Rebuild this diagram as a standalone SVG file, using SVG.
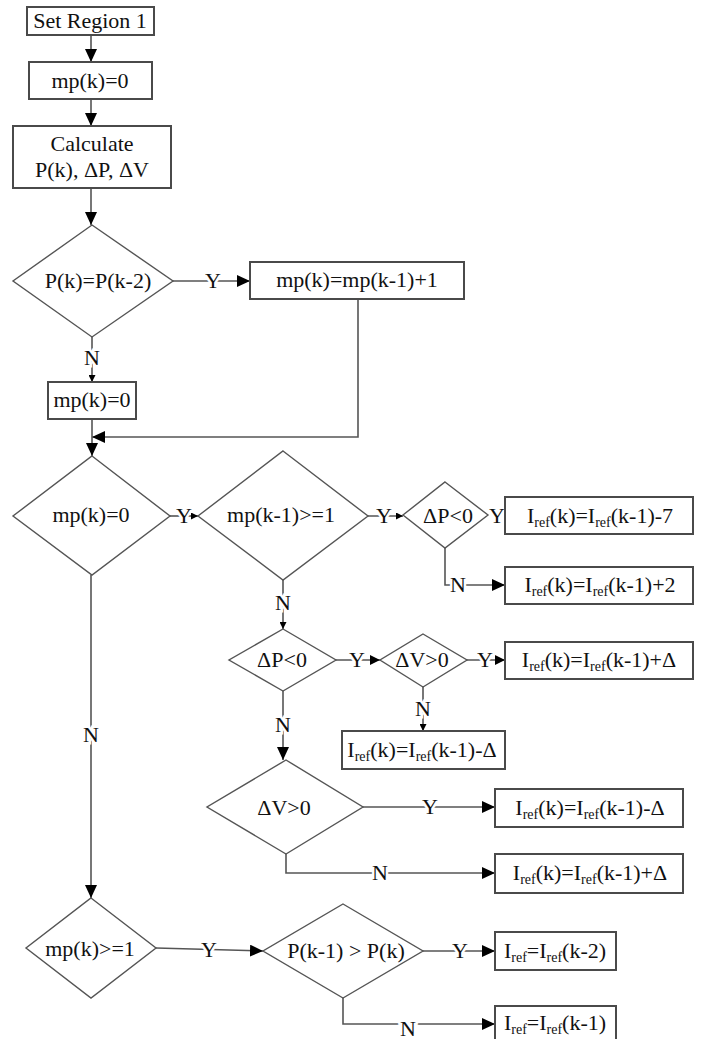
<svg xmlns="http://www.w3.org/2000/svg" width="707" height="1039" viewBox="0 0 707 1039">
<style>
.bg{fill:#fff}
.box{fill:#fff;stroke:#4a4a4a;stroke-width:2}
.dia{fill:#fff;stroke:#555;stroke-width:1.4}
.t{font-family:"Liberation Serif","Times New Roman",serif;font-size:22px;fill:#111;text-anchor:middle}
.s{font-size:14px}
.c{fill:none;stroke:#555;stroke-width:1.6}
.lab{font-family:"Liberation Serif","Times New Roman",serif;font-size:22px;fill:#111;text-anchor:middle;stroke:#fff;stroke-width:5;paint-order:stroke}
</style>
<defs>
<marker id="aL" markerUnits="userSpaceOnUse" markerWidth="13" markerHeight="12" refX="13" refY="6" orient="auto">
<path d="M0,0 L13,6 L0,12 z" fill="#000"/>
</marker>
<marker id="aM" markerUnits="userSpaceOnUse" markerWidth="10" markerHeight="10" refX="10" refY="5" orient="auto">
<path d="M0,0 L10,5 L0,10 z" fill="#000"/>
</marker>
<marker id="aS" markerUnits="userSpaceOnUse" markerWidth="7" markerHeight="7" refX="7" refY="3.5" orient="auto">
<path d="M0,0 L7,3.5 L0,7 z" fill="#000"/>
</marker>
</defs>
<rect class="bg" x="0" y="0" width="707" height="1039"/>

<g id="connectors">
<path class="c" d="M91,35 V62" marker-end="url(#aL)"/>
<path class="c" d="M91,99 V126" marker-end="url(#aL)"/>
<path class="c" d="M91,188 V225" marker-end="url(#aL)"/>
<path class="c" d="M173,281 H250" marker-end="url(#aL)"/>
<path class="c" d="M92,337 V382" marker-end="url(#aS)"/>
<path class="c" d="M358,299 V437 H92" marker-end="url(#aL)"/>
<path class="c" d="M92,419 V456" marker-end="url(#aL)"/>
<path class="c" d="M170,516 H198" marker-end="url(#aS)"/>
<path class="c" d="M368,516 H403" marker-end="url(#aS)"/>
<path class="c" d="M445,548 V585 H505" marker-end="url(#aL)"/>
<path class="c" d="M283,580 V629" marker-end="url(#aS)"/>
<path class="c" d="M336,660 H380" marker-end="url(#aM)"/>
<path class="c" d="M467,660 H505" marker-end="url(#aM)"/>
<path class="c" d="M423,687 V731" marker-end="url(#aS)"/>
<path class="c" d="M283,691 V760" marker-end="url(#aL)"/>
<path class="c" d="M363,807 H495" marker-end="url(#aL)"/>
<path class="c" d="M286,854 V873 H495" marker-end="url(#aL)"/>
<path class="c" d="M91,575 V898" marker-end="url(#aL)"/>
<path class="c" d="M156,948 L263,951" marker-end="url(#aL)"/>
<path class="c" d="M423,951 H495" marker-end="url(#aL)"/>
<path class="c" d="M343,998 V1024 H495" marker-end="url(#aL)"/>
<text class="lab" x="213" y="288">Y</text>
<text class="lab" x="92" y="365">N</text>
<text class="lab" x="184" y="523">Y</text>
<text class="lab" x="384" y="523">Y</text>
<text class="lab" x="497" y="523">Y</text>
<text class="lab" x="458" y="592">N</text>
<text class="lab" x="283" y="610">N</text>
<text class="lab" x="357" y="667">Y</text>
<text class="lab" x="485" y="667">Y</text>
<text class="lab" x="423" y="716">N</text>
<text class="lab" x="283" y="732">N</text>
<text class="lab" x="430" y="814">Y</text>
<text class="lab" x="380" y="880">N</text>
<text class="lab" x="91" y="742">N</text>
<text class="lab" x="209" y="957">Y</text>
<text class="lab" x="460" y="958">Y</text>
<text class="lab" x="408" y="1036">N</text>
</g>

<g id="n1"><rect class="box" x="27" y="7" width="127" height="28"/><text class="t" x="90" y="28">Set Region 1</text></g>
<g id="n2"><rect class="box" x="29" y="62" width="123" height="37"/><text class="t" x="90" y="88">mp(k)=0</text></g>
<g id="n3"><rect class="box" x="13" y="126" width="158" height="62"/><text class="t" x="92" y="151">Calculate</text><text class="t" x="92" y="177">P(k), ΔP, ΔV</text></g>
<g id="d1"><polygon class="dia" points="92,225 173,281 92,337 13,281"/><text class="t" x="98" y="288">P(k)=P(k-2)</text></g>
<g id="n4"><rect class="box" x="250" y="262" width="214" height="37"/><text class="t" x="357" y="287">mp(k)=mp(k-1)+1</text></g>
<g id="n5"><rect class="box" x="48" y="382" width="88" height="37"/><text class="t" x="92" y="407">mp(k)=0</text></g>
<g id="d2"><polygon class="dia" points="92,456 170,516 92,575 13,516"/><text class="t" x="91" y="522">mp(k)=0</text></g>
<g id="d3"><polygon class="dia" points="283,451 368,516 283,580 198,516"/><text class="t" x="281" y="522">mp(k-1)&gt;=1</text></g>
<g id="d4"><polygon class="dia" points="445,482 488,515 445,548 403,515"/><text class="t" x="448" y="523">ΔP&lt;0</text></g>
<g id="n6"><rect class="box" x="505" y="497" width="188" height="37"/><text class="t" x="600" y="523">I<tspan class="s" dy="4">ref</tspan><tspan dy="-4">(k)=I</tspan><tspan class="s" dy="4">ref</tspan><tspan dy="-4">(k-1)-7</tspan></text></g>
<g id="n7"><rect class="box" x="505" y="567" width="188" height="37"/><text class="t" x="600" y="592">I<tspan class="s" dy="4">ref</tspan><tspan dy="-4">(k)=I</tspan><tspan class="s" dy="4">ref</tspan><tspan dy="-4">(k-1)+2</tspan></text></g>
<g id="d5"><polygon class="dia" points="283,629 336,660 283,691 229,660"/><text class="t" x="282" y="667">ΔP&lt;0</text></g>
<g id="d6"><polygon class="dia" points="423,634 467,660 423,687 380,660"/><text class="t" x="422" y="667">ΔV&gt;0</text></g>
<g id="n8"><rect class="box" x="505" y="642" width="188" height="37"/><text class="t" x="599" y="667">I<tspan class="s" dy="4">ref</tspan><tspan dy="-4">(k)=I</tspan><tspan class="s" dy="4">ref</tspan><tspan dy="-4">(k-1)+Δ</tspan></text></g>
<g id="n9"><rect class="box" x="342" y="731" width="163" height="38"/><text class="t" x="422" y="757">I<tspan class="s" dy="4">ref</tspan><tspan dy="-4">(k)=I</tspan><tspan class="s" dy="4">ref</tspan><tspan dy="-4">(k-1)-Δ</tspan></text></g>
<g id="d7"><polygon class="dia" points="286,760 363,807 286,854 207,807"/><text class="t" x="284" y="815">ΔV&gt;0</text></g>
<g id="n10"><rect class="box" x="495" y="789" width="188" height="38"/><text class="t" x="590" y="815">I<tspan class="s" dy="4">ref</tspan><tspan dy="-4">(k)=I</tspan><tspan class="s" dy="4">ref</tspan><tspan dy="-4">(k-1)-Δ</tspan></text></g>
<g id="n11"><rect class="box" x="495" y="854" width="188" height="39"/><text class="t" x="590" y="880">I<tspan class="s" dy="4">ref</tspan><tspan dy="-4">(k)=I</tspan><tspan class="s" dy="4">ref</tspan><tspan dy="-4">(k-1)+Δ</tspan></text></g>
<g id="d8"><polygon class="dia" points="91,898 156,948 91,998 26,948"/><text class="t" x="90" y="956">mp(k)&gt;=1</text></g>
<g id="d9"><polygon class="dia" points="343,904 423,951 343,998 263,951"/><text class="t" x="346" y="958">P(k-1) &gt; P(k)</text></g>
<g id="n12"><rect class="box" x="495" y="932" width="121" height="38"/><text class="t" x="555" y="958">I<tspan class="s" dy="4">ref</tspan><tspan dy="-4">=I</tspan><tspan class="s" dy="4">ref</tspan><tspan dy="-4">(k-2)</tspan></text></g>
<g id="n13"><rect class="box" x="495" y="1006" width="121" height="40"/><text class="t" x="555" y="1030">I<tspan class="s" dy="4">ref</tspan><tspan dy="-4">=I</tspan><tspan class="s" dy="4">ref</tspan><tspan dy="-4">(k-1)</tspan></text></g>
</svg>
